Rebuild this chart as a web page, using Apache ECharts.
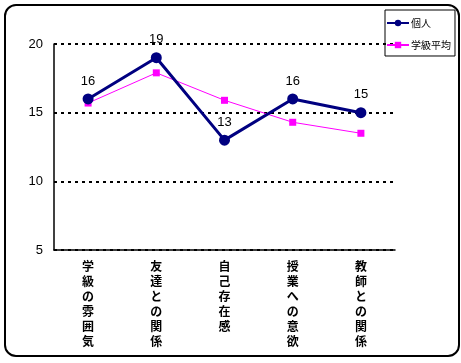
<!DOCTYPE html>
<html><head><meta charset="utf-8">
<script src="https://cdn.jsdelivr.net/npm/echarts@6/dist/echarts.min.js"></script>
<style>html,body{margin:0;padding:0;background:#fff}#c{width:461px;height:363px}</style>
</head><body><div id="c"></div>
<script>
const categories = ['学級の雰囲気', '友達との関係', '自己存在感', '授業への意欲', '教師との関係'];
const individual = [16, 19, 13, 16, 15];
const classAvg = [15.7, 17.9, 15.9, 14.3, 13.5];
const yTicks = [5, 10, 15, 20];

const chart = echarts.init(document.getElementById('c'));
chart.setOption({
  animation: false,
  backgroundColor: '#fff',
  graphic: [{
    type: 'rect', left: 4, top: 4, z: -1,
    shape: { width: 454, height: 351, r: 11 },
    style: { fill: '#fff', stroke: '#000', lineWidth: 2 }
  }],
  legend: {
    orient: 'vertical', left: 385, top: 10,
    borderColor: '#000', borderWidth: 1, borderRadius: 0,
    padding: [8, 4, 6, 1], itemGap: 12, itemWidth: 22, itemHeight: 8,
    textStyle: { fontFamily: 'Noto Sans CJK JP', fontSize: 10, color: '#000', padding: [0, 0, 0, -3] },
    data: ['個人', '学級平均']
  },
  grid: { left: 54, top: 44, width: 341, height: 206, containLabel: false },
  xAxis: {
    type: 'category', data: categories, boundaryGap: true,
    axisLine: { lineStyle: { color: '#000', width: 1.5 } },
    axisTick: { inside: true, length: 4, lineStyle: { color: '#000' } },
    axisLabel: {
      interval: 0, margin: 9, lineHeight: 15,
      fontFamily: 'Noto Sans CJK JP', fontWeight: 'bold', fontSize: 12, color: '#000',
      formatter: v => v.split('').join('\n')
    }
  },
  yAxis: {
    type: 'value', min: yTicks[0], max: yTicks[yTicks.length - 1], interval: 5,
    axisLine: { show: true, lineStyle: { color: '#000', width: 1.5 } },
    axisTick: { show: false },
    axisLabel: { margin: 11, fontFamily: 'Liberation Sans', fontSize: 13, color: '#000' },
    splitLine: { lineStyle: { color: '#000', type: [3, 4], width: 2 } }
  },
  series: [{
    name: '個人', type: 'line', data: individual, z: 3,
    symbol: 'circle', symbolSize: 11,
    lineStyle: { color: '#000080', width: 3 },
    itemStyle: { color: '#000080' },
    label: { show: true, position: 'top', distance: 6, fontFamily: 'Liberation Sans', fontSize: 13, color: '#000' }
  }, {
    name: '学級平均', type: 'line', data: classAvg, z: 2,
    symbol: 'rect', symbolSize: 7,
    lineStyle: { color: '#FF00FF', width: 1 },
    itemStyle: { color: '#FF00FF' }
  }]
});
</script></body></html>
